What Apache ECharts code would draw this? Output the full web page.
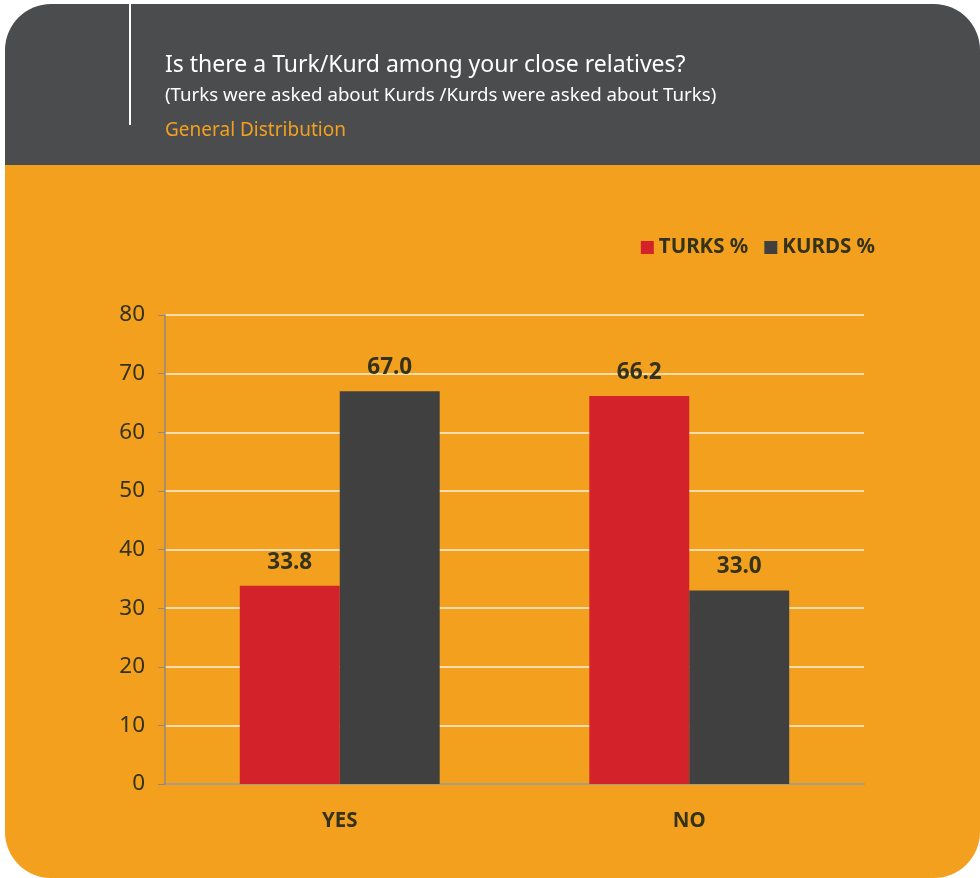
<!DOCTYPE html>
<html>
<head>
<meta charset="utf-8">
<script src="https://cdn.jsdelivr.net/npm/echarts@6/dist/echarts.min.js"></script>
<style>
html,body{margin:0;padding:0;background:#fff;}
#chart{width:980px;height:878px;}
</style>
</head>
<body>
<div id="chart"></div>
<script>
var categories = ['YES', 'NO'];
var turks = [33.8, 66.2];
var kurds = [67.0, 33.0];
var seriesNames = ['TURKS %', 'KURDS %'];
var titleText = 'Is there a Turk/Kurd among your close relatives?';
var subtitleText = '(Turks were asked about Kurds /Kurds were asked about Turks)';
var sectionText = 'General Distribution';

var FONT = '"Noto Sans", sans-serif';
var TXT = '#34321a';
var chart = echarts.init(document.getElementById('chart'));
chart.setOption({
  backgroundColor: '#ffffff',
  animation: false,
  graphic: [
    {type:'rect', z:-10, shape:{x:5,y:4,width:975,height:300,r:[46,46,0,0]}, style:{fill:'#4b4c4e'}},
    {type:'rect', z:-9, shape:{x:5,y:165,width:975,height:713,r:[0,0,46,46]}, style:{fill:'#f3a01f'}},
    {type:'rect', z:-8, shape:{x:129,y:4,width:2,height:121}, style:{fill:'#ffffff'}},
    {type:'text', left:165, top:54, style:{text:titleText, fill:'#ffffff', font:'23px ' + FONT}},
    {type:'text', left:165, top:86, style:{text:subtitleText, fill:'#ffffff', font:'18.7px ' + FONT}},
    {type:'text', left:165, top:121, style:{text:sectionText, fill:'#f3a01f', font:'19px ' + FONT}}
  ],
  legend: {
    right: 100, top: 232,
    itemWidth: 13, itemHeight: 13, itemGap: 16,
    icon: 'rect',
    textStyle: {color: TXT, fontWeight: 'bold', fontSize: 20.5, fontFamily: FONT},
    data: seriesNames
  },
  grid: {left: 165, right: 116, top: 315, bottom: 94, containLabel: false},
  xAxis: {
    type: 'category', data: categories,
    axisLine: {lineStyle: {color: '#8f8a80', width: 1.5}},
    axisTick: {length: 8, lineStyle: {color: '#8f8a80'}},
    axisLabel: {color: TXT, fontWeight: 'bold', fontSize: 20.5, fontFamily: FONT, margin: 27}
  },
  yAxis: {
    type: 'value', min: 0, max: 80, interval: 10,
    axisLine: {show: true, lineStyle: {color: '#8f8a80', width: 1.5}},
    axisTick: {show: true, length: 7, lineStyle: {color: '#8f8a80'}},
    axisLabel: {color: TXT, fontSize: 22.5, fontFamily: FONT, margin: 20},
    splitLine: {lineStyle: {color: 'rgba(255,255,255,0.85)', width: 1.5}}
  },
  series: [
    {name: seriesNames[0], type: 'bar', data: turks, barGap: '0%', barCategoryGap: '42.8%',
     itemStyle: {color: '#d4222b'},
     label: {show: true, position: 'top', distance: 12, formatter: function(p){return p.value.toFixed(1);},
             color: TXT, fontWeight: 'bold', fontSize: 22.5, fontFamily: FONT}},
    {name: seriesNames[1], type: 'bar', data: kurds, barGap: '0%', barCategoryGap: '42.8%',
     itemStyle: {color: '#404041'},
     label: {show: true, position: 'top', distance: 12, formatter: function(p){return p.value.toFixed(1);},
             color: TXT, fontWeight: 'bold', fontSize: 22.5, fontFamily: FONT}}
  ]
});
</script>
</body>
</html>
